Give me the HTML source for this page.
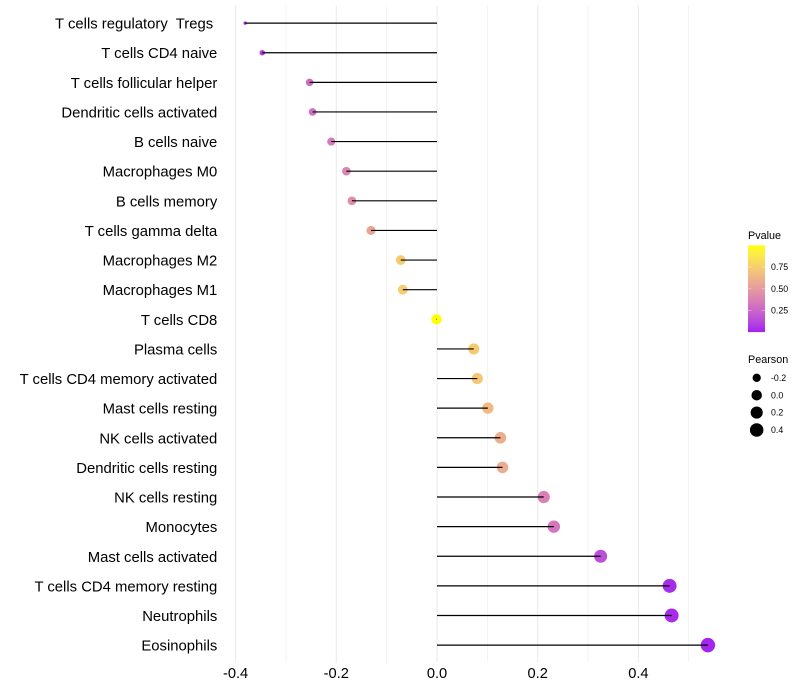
<!DOCTYPE html>
<html>
<head>
<meta charset="utf-8">
<style>
html,body{margin:0;padding:0;background:#fff;}
svg{display:block;font-family:"Liberation Sans",sans-serif;}
text{white-space:pre;}
</style>
</head>
<body>
<svg id="chart" xmlns="http://www.w3.org/2000/svg" width="800" height="700" viewBox="0 0 800 700"></svg>
<script>
var categories = ["T cells regulatory  Tregs ","T cells CD4 naive","T cells follicular helper","Dendritic cells activated","B cells naive","Macrophages M0","B cells memory","T cells gamma delta","Macrophages M2","Macrophages M1","T cells CD8","Plasma cells","T cells CD4 memory activated","Mast cells resting","NK cells activated","Dendritic cells resting","NK cells resting","Monocytes","Mast cells activated","T cells CD4 memory resting","Neutrophils","Eosinophils"];
var pearson = [-0.381,-0.347,-0.253,-0.247,-0.21,-0.18,-0.169,-0.131,-0.072,-0.068,-0.001,0.073,0.08,0.101,0.126,0.13,0.212,0.232,0.325,0.462,0.466,0.538];
var pvalues = [0.06,0.1,0.29,0.3,0.35,0.4,0.44,0.55,0.74,0.75,0.995,0.74,0.72,0.66,0.6,0.59,0.38,0.33,0.16,0.04,0.04,0.02];
var xTicks = [-0.4,-0.2,0,0.2,0.4];
var xMinorTicks = [-0.3,-0.1,0.1,0.3,0.5];
var pvalueLegendTicks = [0.25,0.5,0.75];
var pearsonLegendValues = [-0.2,0,0.2,0.4];

var NS = "http://www.w3.org/2000/svg";
var svg = document.getElementById("chart");
function el(tag, attrs, parent){
  var e = document.createElementNS(NS, tag);
  for (var k in attrs) e.setAttribute(k, attrs[k]);
  (parent || svg).appendChild(e);
  return e;
}
function xScale(v){ return 437 + 503.5 * v; }
function yScale(i){ return 23.1 + i * 29.62; }
function rScale(v){
  var lo = Math.min.apply(null, pearson), hi = Math.max.apply(null, pearson);
  var t = (v - lo) / (hi - lo);
  return 1.7 + 5.5 * Math.sqrt(Math.max(0, t));
}
function toLin(c){ c /= 255; return c <= 0.04045 ? c / 12.92 : Math.pow((c + 0.055) / 1.055, 2.4); }
function fromLin(c){ c = c <= 0.0031308 ? 12.92 * c : 1.055 * Math.pow(c, 1 / 2.4) - 0.055; return Math.round(255 * Math.min(1, Math.max(0, c))); }
function rgb2lab(c){
  var r = toLin(c[0]), g = toLin(c[1]), b = toLin(c[2]);
  var x = (0.4124 * r + 0.3576 * g + 0.1805 * b) / 0.95047, y = 0.2126 * r + 0.7152 * g + 0.0722 * b, z = (0.0193 * r + 0.1192 * g + 0.9505 * b) / 1.08883;
  function f(t){ return t > 0.008856 ? Math.cbrt(t) : 7.787 * t + 16 / 116; }
  return [116 * f(y) - 16, 500 * (f(x) - f(y)), 200 * (f(y) - f(z))];
}
function lab2rgb(l){
  var fy = (l[0] + 16) / 116, fx = l[1] / 500 + fy, fz = fy - l[2] / 200;
  function g(t){ return t * t * t > 0.008856 ? t * t * t : (t - 16 / 116) / 7.787; }
  var x = g(fx) * 0.95047, y = g(fy), z = g(fz) * 1.08883;
  return "rgb(" + fromLin(3.2406 * x - 1.5372 * y - 0.4986 * z) + "," + fromLin(-0.9689 * x + 1.8758 * y + 0.0415 * z) + "," + fromLin(0.0557 * x - 0.204 * y + 1.057 * z) + ")";
}
var labLow = rgb2lab([160, 32, 240]), labHigh = rgb2lab([255, 255, 0]);
function colorScale(p){
  var t = (p - 0.008) / (1 - 0.008);
  t = Math.max(0, Math.min(1, t));
  return lab2rgb([0, 1, 2].map(function(i){ return labLow[i] + (labHigh[i] - labLow[i]) * t; }));
}
function fmt(v){ return v.toFixed(1); }

/* gridlines */
var gridG = el("g", {});


xMinorTicks.forEach(function(v){
  var l = el("line", {x1: xScale(v), x2: xScale(v), y1: 5.5, y2: 662.5, stroke: "#ebebeb", "stroke-width": 0.55}, gridG);
  
  
});
xTicks.forEach(function(v){
  var l = el("line", {x1: xScale(v), x2: xScale(v), y1: 5.5, y2: 662.5, stroke: "#ebebeb", "stroke-width": 1.07}, gridG);
  
  
});

/* points and stems */
categories.forEach(function(name, i){
  var cx = xScale(pearson[i]), cy = yScale(i);
  var c = el("circle", {cx: cx, cy: cy, r: rScale(pearson[i]), fill: colorScale(pvalues[i])});
  
  
});
categories.forEach(function(name, i){
  var cy = yScale(i);
  var l = el("line", {x1: xScale(0), x2: xScale(pearson[i]), y1: cy, y2: cy, stroke: "#000", "stroke-width": 1.2});
  
  
  var t = el("text", {x: 217.3, y: cy + 5.5, "text-anchor": "end", "font-size": 14.85, fill: "#000"});
  t.textContent = name;
  
  
});

/* x tick labels */
xTicks.forEach(function(v){
  var t = el("text", {x: xScale(v), y: 678, "text-anchor": "middle", "font-size": 14.67, fill: "#000"});
  t.textContent = fmt(v);
  
  
});

/* colour legend */
var pTitle = el("text", {x: 748, y: 239, "font-size": 10.8, fill: "#000"});
pTitle.textContent = "Pvalue";



var barTop = 245.3, barBottom = 331.7, barLeft = 748, barRight = 765;
function barY(p){ return barBottom - (p - 0.008) / (1 - 0.008) * (barBottom - barTop); }
var steps = 40;
for (var s = 0; s < steps; s++) {
  var p0 = 0.008 + (1 - 0.008) * s / steps, p1 = 0.008 + (1 - 0.008) * (s + 1) / steps;
  var seg = el("rect", {x: barLeft, width: barRight - barLeft, y: barY(p1), height: barY(p0) - barY(p1) + 0.4, fill: colorScale((p0 + p1) / 2)});
  
  
}
pvalueLegendTicks.forEach(function(p){
  var y = barY(p);
  var a = el("line", {x1: barLeft, x2: barLeft + 3.4, y1: y, y2: y, stroke: "#fff", "stroke-opacity": 0.6, "stroke-width": 0.6});
  
  
  var b = el("line", {x1: barRight - 3.4, x2: barRight, y1: y, y2: y, stroke: "#fff", "stroke-opacity": 0.6, "stroke-width": 0.6});
  
  
  var t = el("text", {x: 771, y: y + 3.1, "font-size": 8.8, fill: "#000"});
  t.textContent = p.toFixed(2);
  
  
});

/* size legend */
var sTitle = el("text", {x: 748, y: 363, "font-size": 10.8, fill: "#000"});
sTitle.textContent = "Pearson";


pearsonLegendValues.forEach(function(v, i){
  var y = 377.8 + i * 17.4;
  var c = el("circle", {cx: 756.7, cy: y, r: rScale(v), fill: "#000"});
  
  
  var t = el("text", {x: 771, y: y + 3.1, "font-size": 8.8, fill: "#000"});
  t.textContent = fmt(v);
  
  
});
</script>
</body>
</html>
